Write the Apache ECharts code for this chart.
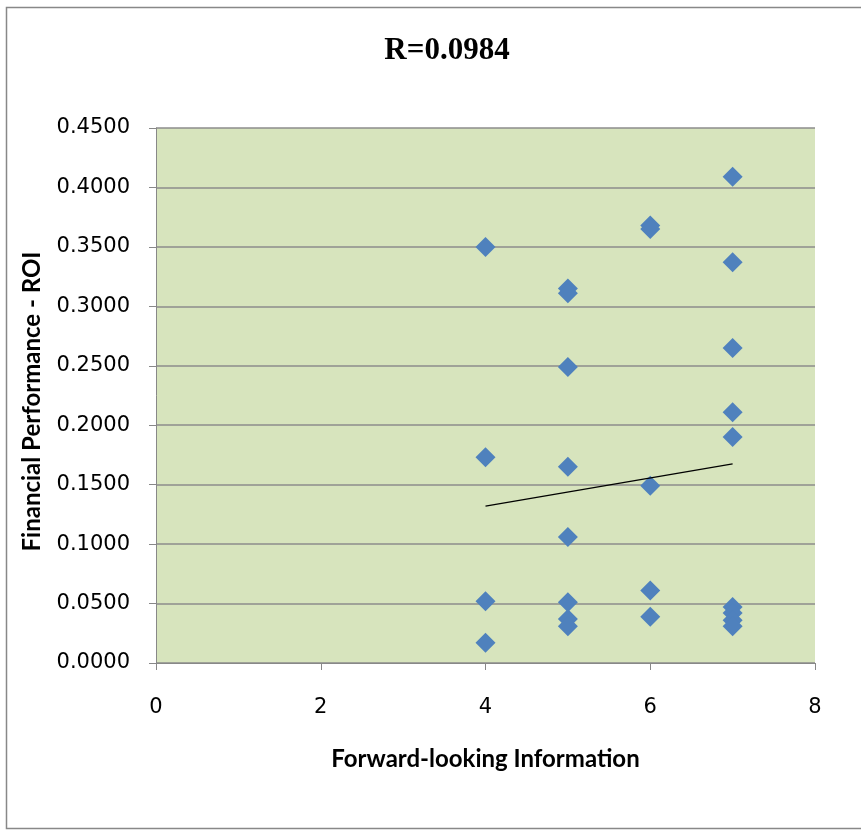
<!DOCTYPE html>
<html><head><meta charset="utf-8">
<script src="https://cdn.jsdelivr.net/npm/echarts@6/dist/echarts.min.js"></script>
<style>html,body{margin:0;padding:0;background:#fff}#c{width:861px;height:830px}</style>
</head><body><div id="c"></div>
<script>
const xValues = [4,4,4,4, 5,5,5,5,5,5,5,5, 6,6,6,6,6, 7,7,7,7,7,7,7,7,7];
const yValues = [0.350,0.173,0.052,0.017, 0.315,0.311,0.249,0.165,0.106,0.051,0.037,0.031, 0.368,0.365,0.149,0.061,0.039, 0.409,0.337,0.265,0.211,0.190,0.047,0.042,0.036,0.031];
const trendX = [4, 7];
const trendY = [0.132, 0.1675];
const yTicks = [0,0.05,0.1,0.15,0.2,0.25,0.3,0.35,0.4,0.45];
const xTicks = [0,2,4,6,8];

const chart = echarts.init(document.getElementById('c'));
const pts = xValues.map((x,i)=>[x,yValues[i]]);
chart.setOption({
  animation:false,
  backgroundColor:'#fff',
  title:{text:'R=0.0984',left:442,top:30,textAlign:'center',
    textStyle:{fontFamily:'Liberation Serif',fontWeight:'bold',fontSize:31,color:'#000'}},
  graphic:[{type:'rect',shape:{x:6.5,y:7.5,width:870,height:821},style:{fill:'none',stroke:'#888',lineWidth:1.5},z:-1}],
  grid:{left:156,right:46,top:128,bottom:167,show:true,backgroundColor:'#d7e4bd',borderWidth:0},
  xAxis:{type:'value',min:0,max:8,interval:2,
    name:'Forward-looking Information',nameLocation:'middle',nameGap:84,
    nameTextStyle:{fontFamily:'Lato',fontWeight:'bold',fontSize:24,color:'#000'},
    axisLine:{show:true,onZero:false,lineStyle:{color:'#888'}},
    axisTick:{show:true,length:7,lineStyle:{color:'#888'}},
    axisLabel:{fontFamily:'DejaVu Sans',fontSize:21,color:'#000',margin:34,formatter:v=>String(v)},
    splitLine:{show:false}},
  yAxis:{type:'value',min:0,max:0.45,interval:0.05,
    name:'Financial Performance - ROI',nameLocation:'middle',nameGap:112,
    nameTextStyle:{fontFamily:'Lato',fontWeight:'bold',fontSize:24,color:'#000',padding:[0,12,0,0]},
    axisLine:{show:true,lineStyle:{color:'#888'}},
    axisTick:{show:true,length:7,lineStyle:{color:'#888'}},
    axisLabel:{fontFamily:'DejaVu Sans',fontSize:21,color:'#000',margin:26,formatter:v=>v.toFixed(4)},
    splitLine:{show:true,lineStyle:{color:'#8c8c8c',width:1.5}}},
  series:[
    {type:'scatter',data:pts,symbol:'diamond',symbolSize:20,itemStyle:{color:'#4f81bd',opacity:1},z:3},
    {type:'line',data:trendX.map((x,i)=>[x,trendY[i]]),symbol:'none',lineStyle:{color:'#000',width:1.2},z:4}
  ]
});
</script></body></html>
